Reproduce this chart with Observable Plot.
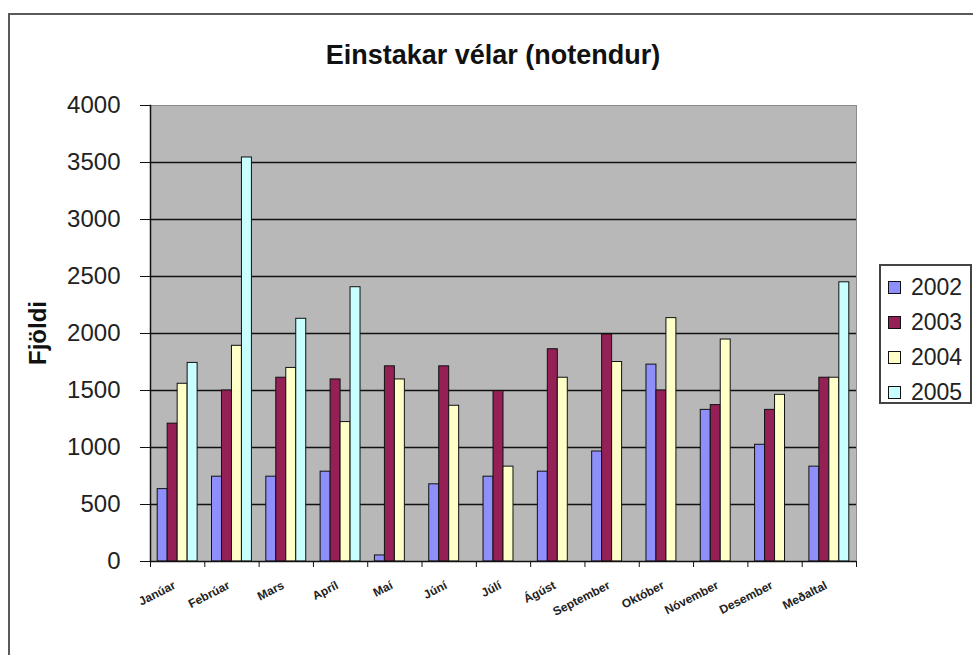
<!DOCTYPE html>
<html><head><meta charset="utf-8">
<script src="https://cdn.jsdelivr.net/npm/d3@7"></script>
<script src="https://cdn.jsdelivr.net/npm/@observablehq/plot@0.6"></script>
<style>
html,body{margin:0;padding:0;background:#fff;overflow:hidden;}
#wrap{position:relative;width:973px;height:655px;overflow:hidden;font-family:Arial,"Liberation Sans",sans-serif;color:#111;}
#border{position:absolute;left:8px;top:13px;width:1000px;height:700px;border-left:2px solid #5a5a5a;border-top:2px solid #5a5a5a;}
#title{position:absolute;left:0;width:986px;top:39px;text-align:center;font-weight:bold;font-size:27px;line-height:32px;}
#ylabel{position:absolute;left:38px;top:333px;transform:translate(-50%,-50%) rotate(-90deg);font-weight:bold;font-size:24px;white-space:nowrap;}
#chart{position:absolute;left:0;top:80px;}
#legend{position:absolute;left:879px;top:264px;width:93px;height:140px;border:2px solid #444;box-sizing:border-box;background:#fff;}
.lrow{position:absolute;left:0;height:26px;display:flex;align-items:center;}
.sw{width:13px;height:13px;border:1px solid #111;margin-left:7px;margin-right:10px;box-sizing:border-box;}
.lt{font-size:23px;color:#222;}
g[aria-label="x-axis tick label"] text{letter-spacing:0.8px;}
</style></head>
<body>
<div id="wrap">
  <div id="border"></div>
  <div id="title">Einstakar vélar (notendur)</div>
  <div id="ylabel">Fjöldi</div>
  <div id="chart"></div>
  <div id="legend"></div>
</div>
<script>
const months = ["Janúar","Febrúar","Mars","Apríl","Maí","Júní","Júlí","Ágúst","September","Október","Nóvember","Desember","Meðaltal"];
const years = ["2002","2003","2004","2005"];
const v2002 = [635, 744, 744, 788, 53, 677, 744, 788, 965, 1727, 1330, 1024, 832];
const v2003 = [1209, 1500, 1612, 1597, 1712, 1712, 1495, 1862, 1991, 1500, 1372, 1330, 1612];
const v2004 = [1559, 1892, 1698, 1223, 1597, 1366, 832, 1612, 1750, 2135, 1947, 1462, 1612];
const v2005 = [1742, 3544, 2129, 2406, null, null, null, null, null, null, null, null, 2449];
const yTicks = [0, 500, 1000, 1500, 2000, 2500, 3000, 3500, 4000];
const colors = ["#8f8ffb", "#942056", "#ffffc8", "#c8ffff"];
const series = [v2002, v2003, v2004, v2005];

const W = 973, H = 575, mL = 150, mR = 117, mT = 25, mB = 94;
const step = (W - mL - mR) / months.length;
const pInner = 0.265;
const bw = step * (1 - pInner);
const barW = bw / years.length;

const rows = years.map((yr, k) => months.flatMap((m, i) =>
  series[k][i] == null ? [] : [{month: m, year: yr, value: series[k][i]}]));

const chart = Plot.plot({
  width: W, height: H,
  marginLeft: mL, marginRight: mR, marginTop: mT, marginBottom: mB,
  style: {fontFamily: "Arial, 'Liberation Sans', sans-serif", color: "#222", background: "transparent"},
  x: {type: "band", domain: months, paddingInner: pInner, paddingOuter: pInner / 2, round: false, label: null},
  y: {domain: [0, 4000], label: null},
  marks: [
    Plot.frame({fill: "#b8b8b8", stroke: "#8c8c8c"}),
    Plot.gridY(yTicks.slice(1, -1), {stroke: "#111", strokeOpacity: 1, strokeWidth: 1.3}),
    ...years.map((yr, k) => Plot.barY(rows[k], {
      x: "month", y: "value", fill: colors[k], stroke: "#111", strokeWidth: 1,
      insetLeft: k * barW, insetRight: (years.length - 1 - k) * barW
    })),
    Plot.ruleY([0], {stroke: "#111", strokeWidth: 1.5}),
    Plot.frame({anchor: "left", stroke: "#111", strokeWidth: 1.5}),
    Plot.axisY(yTicks, {tickSize: 10, tickPadding: 20, fontSize: 24, tickFormat: d => String(d), label: null, stroke: "#111"}),
    Plot.axisX({tickSize: 0, tickPadding: 23, tickRotate: -27, dx: -3, fontSize: 12, fontWeight: "bold", label: null, ariaLabel: "x-axis tick label"}),
    Plot.axisX(months, {tickSize: 6, tickFormat: () => "", dx: -step / 2, label: null, stroke: "#111"}),
    Plot.axisX([months[months.length - 1]], {tickSize: 6, tickFormat: () => "", dx: step / 2, label: null, stroke: "#111"})
  ]
});
document.getElementById("chart").appendChild(chart);

const legend = document.getElementById("legend");
const centers = [21, 56, 91, 126];
years.forEach((yr, k) => {
  const row = document.createElement("div");
  row.className = "lrow";
  row.style.top = (centers[k] - 13) + "px";
  const sw = document.createElement("div");
  sw.className = "sw";
  sw.style.background = colors[k];
  const t = document.createElement("span");
  t.className = "lt";
  t.textContent = yr;
  row.appendChild(sw); row.appendChild(t);
  legend.appendChild(row);
});
</script>
</body></html>
